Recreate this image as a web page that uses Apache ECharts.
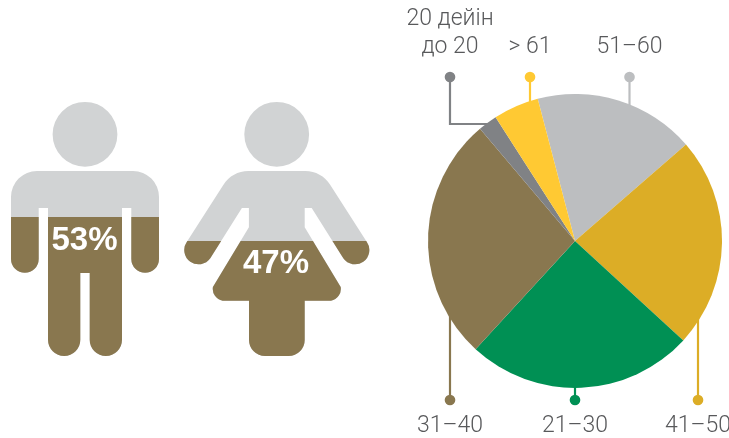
<!DOCTYPE html>
<html>
<head>
<meta charset="utf-8">
<style>
  html, body { margin: 0; padding: 0; background: #fff; }
  #chart { width: 729px; height: 438px; }
</style>
</head>
<body>
<div id="chart"></div>
<script src="https://cdn.jsdelivr.net/npm/echarts@6/dist/echarts.min.js"></script>
<script>
// Data
const genderNames = ['ер', 'әйел'];
const genderValues = [53, 47];
const ageNames = ['51–60', '41–50', '21–30', '31–40', '20 дейін\nдо 20', '> 61'];
const ageValues = [17.7, 23.2, 25, 27, 2.1, 5];
const ageColors = ['#bcbec0', '#dcad26', '#009054', '#89774f', '#808285', '#ffc933'];

const GREY = '#d1d3d4';
const BROWN = '#89774f';
const LABEL_FONT = 'Roboto, "Liberation Sans", sans-serif';

// silhouettes
const manPath = 'M37 171H133A26 26 0 0 1 159 197V258.9A13.85 13.85 0 0 1 131.3 258.9V208H122V339.85' +
  'A16.15 16.15 0 0 1 89.7 339.85V273H80.3V339.85A16.15 16.15 0 0 1 48 339.85V208H38.7V258.9' +
  'A13.85 13.85 0 0 1 11 258.9V197A26 26 0 0 1 37 171Z' +
  'M117.4 134.3A32.4 32.4 0 1 1 52.6 134.3A32.4 32.4 0 1 1 117.4 134.3Z';
const womanPath = 'M248.3 171H305.3C315.6 171 324.6 176 330.3 185L366.7 241.7A14 14 0 0 1 343.3 258.3' +
  'L311.7 208H304.7V227.3L340.7 287A12 12 0 0 1 331 300.7H304.7V340A16 16 0 0 1 288.7 356H265' +
  'A16 16 0 0 1 249 340V300.7H222.6A12 12 0 0 1 212.9 287L248.9 227.3V208H241.9L210.3 258.3' +
  'A14 14 0 0 1 186.9 241.7L223.3 185C229 176 238 171 248.3 171Z' +
  'M309.1 134.3A32.4 32.4 0 1 1 244.3 134.3A32.4 32.4 0 1 1 309.1 134.3Z';
const figurePaths = [manPath, womanPath];
const figureLabelPos = [[84.5, 241], [276, 264]];

// leader: dot x, dot y, elbow end x (if any), end y, label y
const leaders = [
  { x: 629.5, dotY: 77, endY: 112, textY: 47.5 },
  { x: 698, dotY: 400, endY: 310, textY: 426.5 },
  { x: 575, dotY: 400, endY: 375, textY: 426.5 },
  { x: 450, dotY: 400, endY: 300, textY: 426.5 },
  { x: 450, dotY: 77, endY: 124, elbowX: 492, textY: 33.5 },
  { x: 530, dotY: 77, endY: 108, textY: 47.5 }
];

function renderFigure(params, api) {
  const i = params.dataIndex;
  const level = api.coord([i, api.value(1)])[1];
  const pos = figureLabelPos[i];
  return {
    type: 'group',
    children: [
      { type: 'path', shape: { pathData: figurePaths[i] }, style: { fill: GREY } },
      {
        type: 'path',
        shape: { pathData: figurePaths[i] },
        style: { fill: BROWN },
        clipPath: { type: 'rect', shape: { x: 0, y: level, width: 729, height: 438 - level } }
      },
      {
        type: 'text',
        x: pos[0],
        y: pos[1],
        z2: 10,
        style: {
          text: api.value(1) + '%',
          fill: '#fff',
          font: 'bold 33px "Liberation Sans", Arial, sans-serif',
          textAlign: 'center',
          textVerticalAlign: 'middle'
        }
      }
    ]
  };
}

function renderLeader(params, api) {
  const i = params.dataIndex;
  const l = leaders[i];
  const color = ageColors[i];
  const points = [[l.x, l.dotY], [l.x, l.endY]];
  if (l.elbowX) points.push([l.elbowX, l.endY]);
  return {
    type: 'group',
    children: [
      { type: 'polyline', shape: { points: points }, style: { fill: null, stroke: color, lineWidth: 2.2 } },
      { type: 'circle', shape: { cx: l.x, cy: l.dotY, r: 5.3 }, style: { fill: color } },
      {
        type: 'text',
        x: l.x,
        y: l.textY,
        style: {
          text: ageNames[i],
          fill: '#58595b',
          font: '300 23px ' + LABEL_FONT,
          lineHeight: 28,
          textAlign: 'center',
          textVerticalAlign: 'middle'
        }
      }
    ]
  };
}

const chart = echarts.init(document.getElementById('chart'));
chart.setOption({
  animation: false,
  backgroundColor: '#fff',
  grid: { left: 0, right: 0, top: 101, bottom: 81 },
  xAxis: { type: 'category', data: genderNames, show: false },
  yAxis: { type: 'value', min: 18, max: 82, show: false },
  series: [
    {
      type: 'custom',
      coordinateSystem: 'cartesian2d',
      clip: false,
      silent: true,
      renderItem: renderFigure,
      encode: { x: 0, y: 1 },
      data: genderValues.map((v, i) => [i, v])
    },
    {
      type: 'custom',
      coordinateSystem: 'none',
      silent: true,
      z: 1,
      renderItem: renderLeader,
      data: ageValues
    },
    {
      type: 'pie',
      z: 3,
      silent: true,
      center: [575, 241],
      radius: [0, 147],
      startAngle: 104.7,
      clockwise: true,
      label: { show: false },
      labelLine: { show: false },
      data: ageNames.map((name, i) => ({
        name: name,
        value: ageValues[i],
        itemStyle: { color: ageColors[i] }
      }))
    }
  ]
});
</script>
</body>
</html>
